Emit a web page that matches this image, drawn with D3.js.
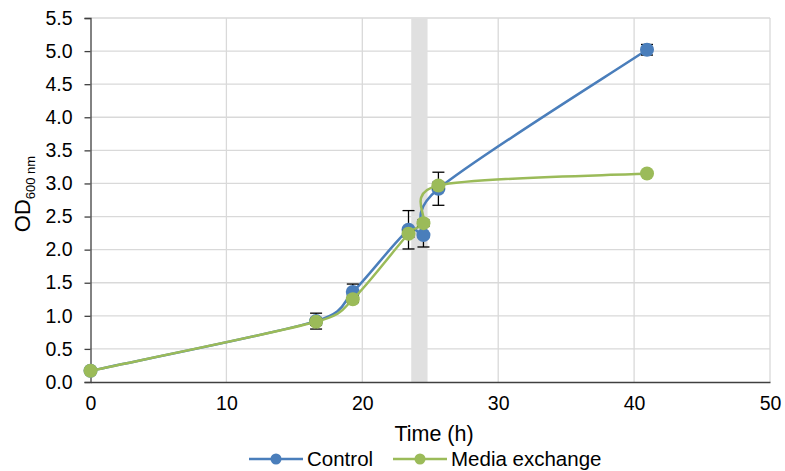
<!DOCTYPE html>
<html>
<head>
<meta charset="utf-8">
<script src="https://cdn.jsdelivr.net/npm/d3@7"></script>
<style>
  body { margin: 0; background: #fff; }
  text { font-family: "Liberation Sans", Arial, sans-serif; fill: #000; }
</style>
</head>
<body>
<svg id="chart" width="785" height="471"></svg>
<script>
// Sampling times (h)
const times = [0, 16.6, 19.3, 23.4, 24.5, 25.6, 40.95];
// OD600 means and standard deviations
const controlOD = [0.17, 0.92, 1.36, 2.30, 2.22, 2.92, 5.02];
const controlSD = [0.02, 0.12, 0.12, 0.29, 0.18, 0.25, 0.08];
const mediaOD = [0.17, 0.91, 1.25, 2.24, 2.40, 2.97, 3.15];
const mediaSD = [0.02, 0.05, 0.05, 0.05, 0.05, 0.05, 0.03];
// Media exchange window (h)
const exchangeWindow = [23.6, 24.8];
// Axis ticks
const xTicks = [0, 10, 20, 30, 40, 50];
const yTicks = [0, 0.5, 1, 1.5, 2, 2.5, 3, 3.5, 4, 4.5, 5, 5.5];

const seriesNames = ["Control", "Media exchange"];
const seriesColors = ["#4a7ebb", "#9bbb59"];

const svg = d3.select("#chart");
const x = d3.scaleLinear().domain([0, 50]).range([90.5, 770]);
const y = d3.scaleLinear().domain([0, 5.5]).range([382, 18]);
const FONT = "Liberation Sans, Arial, sans-serif";

// Smoothed line: cubic Bezier segments with Catmull-Rom style tangents,
// scaled down on short segments so the curve never loops back.
function smoothPath(pts) {
  const p = pts.map(d => [x(d.t), y(d.v)]);
  const n = p.length;
  const path = d3.path();
  path.moveTo(p[0][0], p[0][1]);
  for (let i = 0; i < n - 1; i++) {
    const p0 = p[Math.max(i - 1, 0)], p1 = p[i], p2 = p[i + 1], p3 = p[Math.min(i + 2, n - 1)];
    let c1 = [(p2[0] - p0[0]) / 6, (p2[1] - p0[1]) / 6];
    let c2 = [(p3[0] - p1[0]) / 6, (p3[1] - p1[1]) / 6];
    const L = Math.hypot(p2[0] - p1[0], p2[1] - p1[1]);
    const s = Math.hypot(...c1) + Math.hypot(...c2);
    const k = s > L ? L / s : 1;
    path.bezierCurveTo(p1[0] + c1[0] * k, p1[1] + c1[1] * k,
                       p2[0] - c2[0] * k, p2[1] - c2[1] * k,
                       p2[0], p2[1]);
  }
  return path.toString();
}

// Gridlines
svg.append("g").selectAll("line").data(yTicks.filter(d => d > 0)).join("line")
  .attr("x1", x(0)).attr("x2", x(50))
  .attr("y1", d => y(d)).attr("y2", d => y(d))
  .attr("stroke", "#d9d9d9").attr("stroke-width", 1.3);
svg.append("g").selectAll("line").data(xTicks.filter(d => d > 0)).join("line")
  .attr("x1", d => x(d)).attr("x2", d => x(d))
  .attr("y1", y(0)).attr("y2", y(5.5))
  .attr("stroke", "#d9d9d9").attr("stroke-width", 1.3);

// Shaded media exchange window
svg.append("rect")
  .attr("x", x(exchangeWindow[0]))
  .attr("width", x(exchangeWindow[1]) - x(exchangeWindow[0]))
  .attr("y", y(5.5)).attr("height", y(0) - y(5.5))
  .attr("fill", "#e0e0e0");

// Axes
const yAxis = svg.append("g").attr("transform", `translate(${x(0)},0)`)
  .call(d3.axisLeft(y).tickValues(yTicks).tickFormat(d3.format(".1f")).tickSize(6).tickPadding(12));
yAxis.select(".domain").attr("stroke", "#404040").attr("stroke-width", 1.3);
yAxis.selectAll(".tick line").attr("stroke", "#404040").attr("stroke-width", 1.3);
yAxis.selectAll("text").attr("font-size", 19.5).attr("font-family", FONT).attr("fill", "#000");

const xAxis = svg.append("g").attr("transform", `translate(0,${y(0)})`)
  .call(d3.axisBottom(x).tickValues(xTicks).tickFormat(d3.format("d")).tickSize(0).tickPadding(14));
xAxis.select(".domain").attr("stroke", "#404040").attr("stroke-width", 1.3);
xAxis.selectAll("text").attr("font-size", 19.5).attr("font-family", FONT).attr("fill", "#000");

// Axis titles
svg.append("text").attr("x", 434).attr("y", 441).attr("text-anchor", "middle")
  .attr("font-size", 21.5).text("Time (h)");
const yt = svg.append("text").attr("transform", "translate(30,194) rotate(-90)")
  .attr("text-anchor", "middle").attr("font-size", 22);
yt.append("tspan").text("OD");
yt.append("tspan").attr("font-size", 13).attr("dy", 5).text("600 nm");

// Series
const series = [
  { name: seriesNames[0], color: seriesColors[0], vals: controlOD, sd: controlSD },
  { name: seriesNames[1], color: seriesColors[1], vals: mediaOD, sd: mediaSD }
];

series.forEach(s => {
  const pts = times.map((t, i) => ({ t, v: s.vals[i], e: s.sd[i] }));
  const g = svg.append("g");
  g.append("path").attr("d", smoothPath(pts))
    .attr("fill", "none").attr("stroke", s.color).attr("stroke-width", 2.5);
  const eb = g.append("g").selectAll("g").data(pts).join("g");
  eb.append("line").attr("x1", d => x(d.t)).attr("x2", d => x(d.t))
    .attr("y1", d => y(d.v - d.e)).attr("y2", d => y(d.v + d.e))
    .attr("stroke", "#000").attr("stroke-width", 1.3);
  [-1, 1].forEach(sgn => {
    eb.append("line").attr("x1", d => x(d.t) - 6).attr("x2", d => x(d.t) + 6)
      .attr("y1", d => y(d.v + sgn * d.e)).attr("y2", d => y(d.v + sgn * d.e))
      .attr("stroke", "#000").attr("stroke-width", 1.3);
  });
  g.append("g").selectAll("circle").data(pts).join("circle")
    .attr("cx", d => x(d.t)).attr("cy", d => y(d.v)).attr("r", 7)
    .attr("fill", s.color);
});

// Legend
const legendItems = [
  { name: seriesNames[0], color: seriesColors[0], x0: 249 },
  { name: seriesNames[1], color: seriesColors[1], x0: 393 }
];
legendItems.forEach(it => {
  const g = svg.append("g").attr("transform", `translate(${it.x0},459)`);
  g.append("line").attr("x1", 0).attr("x2", 54).attr("stroke", it.color).attr("stroke-width", 2.5);
  g.append("circle").attr("cx", 27).attr("r", 5.5).attr("fill", it.color);
  g.append("text").attr("x", 58).attr("y", 7).attr("font-size", 20.5).text(it.name);
});
</script>
</body>
</html>
